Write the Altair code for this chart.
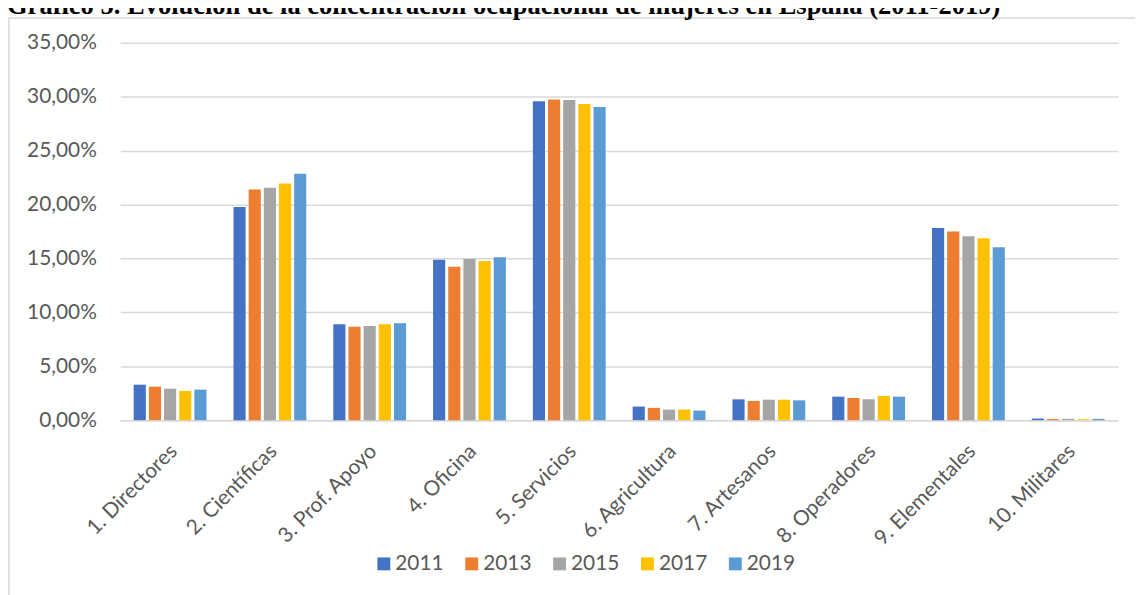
import altair as alt
import pandas as pd

TITLE = "Gráfico 5. Evolución de la concentración ocupacional de mujeres en España (2011-2019)"
categories = ["1. Directores", "2. Científicas", "3. Prof. Apoyo", "4. Oficina", "5. Servicios",
              "6. Agricultura", "7. Artesanos", "8. Operadores", "9. Elementales", "10. Militares"]
years = ["2011", "2013", "2015", "2017", "2019"]
v2011 = [3.29, 19.78, 8.89, 14.89, 29.57, 1.26, 1.93, 2.18, 17.82, 0.15]
v2013 = [3.11, 21.40, 8.67, 14.24, 29.75, 1.14, 1.78, 2.06, 17.51, 0.10]
v2015 = [2.92, 21.56, 8.74, 14.95, 29.69, 0.98, 1.90, 1.94, 17.05, 0.12]
v2017 = [2.71, 21.96, 8.89, 14.76, 29.32, 0.99, 1.90, 2.25, 16.87, 0.08]
v2019 = [2.83, 22.85, 8.98, 15.10, 29.04, 0.89, 1.84, 2.18, 16.04, 0.12]
colors = ["#4472C4", "#ED7D31", "#A5A5A5", "#FFC000", "#5B9BD5"]
y_ticks = [0, 5, 10, 15, 20, 25, 30, 35]

series = [v2011, v2013, v2015, v2017, v2019]
rows = []
for yr, vals in zip(years, series):
    for c, v in zip(categories, vals):
        rows.append({"cat": c, "year": yr, "value": v})
df = pd.DataFrame(rows)

W, H = 1005, 380
PL, PT = 113, 33
FONT = "Lato"
GREY = "#595959"

frame = alt.Chart(pd.DataFrame({"a": [0]})).mark_rect(
    fillOpacity=0, stroke="#D9D9D9", strokeWidth=1.5
).encode(
    x=alt.value(-PL + 1), x2=alt.value(W + 200),
    y=alt.value(-PT + 8), y2=alt.value(H + 400)
)

bars = alt.Chart(df).mark_bar().encode(
    x=alt.X("cat:N", sort=categories,
            scale=alt.Scale(paddingInner=0.24, paddingOuter=0.12),
            axis=alt.Axis(title=None, labelAngle=-45, labelAlign="right",
                          labelBaseline="middle", ticks=False, domainColor="#D9D9D9",
                          domainWidth=1.5, labelPadding=28, labelOffset=4, labelFont=FONT,
                          labelFontSize=21, labelColor=GREY, grid=False)),
    xOffset=alt.XOffset("year:N", sort=years,
                        scale=alt.Scale(paddingInner=0.2, paddingOuter=0.1)),
    y=alt.Y("value:Q", scale=alt.Scale(domain=[0, 35], nice=False),
            axis=alt.Axis(title=None, values=y_ticks, domain=False, ticks=False,
                          gridColor="#D9D9D9", gridWidth=1.5, labelPadding=24,
                          labelFont=FONT, labelFontSize=21, labelColor=GREY,
                          labelExpr="replace(format(datum.value, '.2f'), '.', ',') + '%'")),
    color=alt.Color("year:N", sort=years,
                    scale=alt.Scale(domain=years, range=colors),
                    legend=alt.Legend(title=None, orient="none", direction="horizontal",
                                      legendX=255, legendY=514, symbolType="square",
                                      symbolSize=169, symbolStrokeWidth=0,
                                      labelFont=FONT, labelFontSize=21, labelColor=GREY,
                                      labelOffset=1, columnPadding=17.5)),
)

title = alt.Chart(pd.DataFrame({"t": [TITLE]})).mark_text(
    align="left", baseline="alphabetic", font="Liberation Serif",
    fontWeight="bold", fontSize=26.7, color="#000000"
).encode(text="t:N", x=alt.value(-PL - 1), y=alt.value(-PT + 4))

chart = alt.layer(frame, bars, title).properties(
    width=W, height=H,
    autosize=alt.AutoSizeParams(type="none"),
    padding={"left": PL, "top": PT, "right": 1135 - PL - W, "bottom": 587 - PT - H},
).configure_view(stroke=None)

chart.save("out.html", embed_options={"renderer": "svg", "actions": False})
